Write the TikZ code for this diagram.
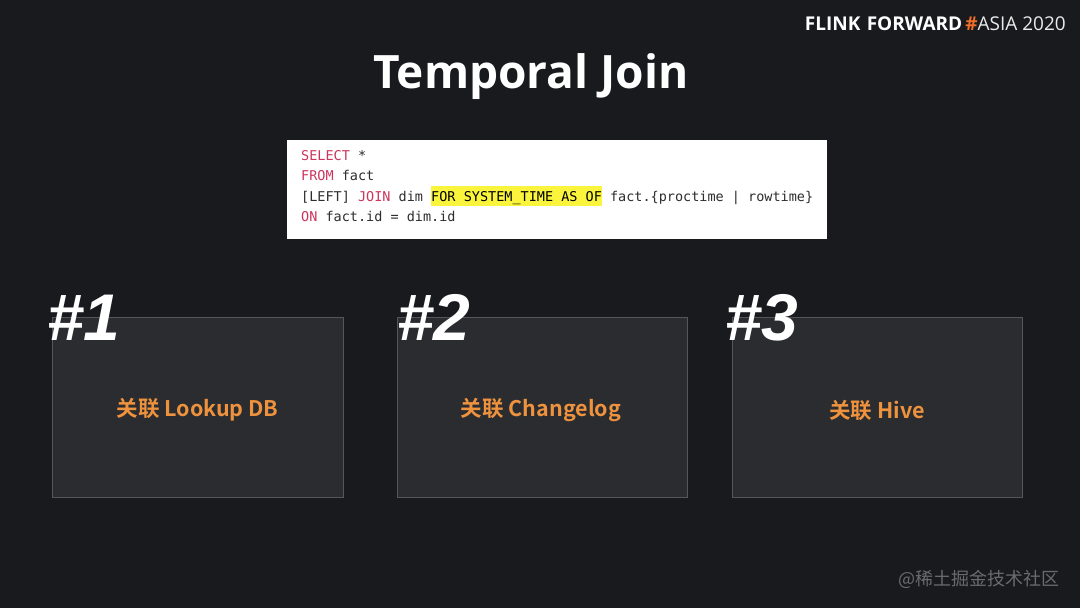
\documentclass[tikz,border=0pt]{standalone}
\usepackage{fontspec}
\setmainfont{Open Sans}
\newfontfamily\cjk[BoldFont={Noto Sans CJK SC Bold}]{Noto Sans CJK SC}
\newfontfamily\codefont{DejaVu Sans Mono}
\newfontfamily\hashfont{Liberation Sans}
\newfontfamily\brand{Open Sans}
\definecolor{bg}{RGB}{24,26,30}
\definecolor{boxfill}{RGB}{42,44,48}
\definecolor{boxline}{RGB}{84,86,90}
\definecolor{kw}{RGB}{204,52,92}
\definecolor{codetxt}{RGB}{45,45,45}
\definecolor{hl}{RGB}{250,245,60}
\definecolor{lbl}{RGB}{238,146,62}
\definecolor{brandorange}{RGB}{240,110,40}
\definecolor{wm}{RGB}{105,107,112}
\begin{document}
\begin{tikzpicture}[x=1pt,y=-1pt,
  panel/.style={draw=boxline,fill=boxfill,line width=1pt},
  numtxt/.style={text=white,font=\hashfont\bfseries\itshape\fontsize{66}{66}\selectfont,inner sep=0pt,anchor=base west},
  lbltxt/.style={text=lbl,font=\cjk\bfseries\fontsize{21.5}{24}\selectfont,inner sep=0pt},
  codeline/.style={text=codetxt,font=\codefont\fontsize{13.5}{16}\selectfont,inner sep=0pt,anchor=base west}]
\fill[bg] (0,0) rectangle (1080,608);
\useasboundingbox (0,0) rectangle (1080,608);
% header
\node[inner sep=0pt,anchor=base east,text=white,font=\brand\fontsize{19}{20}\selectfont] (brand) at (1066,30)
  {\textbf{FLINK\,\,FORWARD}\,{\color{brandorange}\textbf{\#}}{\color{white!92!black}ASIA 2020}};
% title
\node[inner sep=0pt,anchor=base,text=white,font=\bfseries\fontsize{46}{50}\selectfont] (title) at (531,88) {Temporal Join};
% code box
\node[fill=white,minimum width=540pt,minimum height=99pt,inner sep=0pt,anchor=north west] (code) at (287,140) {};
\fill[hl] (430.5,186) rectangle (601.5,206);
\node[codeline] (l1) at (301,160) {{\color{kw}SELECT} *};
\node[codeline] (l2) at (301,180.5) {{\color{kw}FROM} fact};
\node[codeline] (l3) at (301,201) {[LEFT] {\color{kw}JOIN} dim {\color{black}FOR SYSTEM\_TIME AS OF} fact.\{proctime | rowtime\}};
\node[codeline] (l4) at (301,221.5) {{\color{kw}ON} fact.id = dim.id};
% panels
\draw[panel] (52,317) rectangle (343,497);
\draw[panel] (397,317) rectangle (687,497);
\draw[panel] (732,317) rectangle (1022,497);
\node[lbltxt] (t1) at (197.5,410) {关联 Lookup DB};
\node[lbltxt] (t2) at (541,410) {关联 Changelog};
\node[lbltxt] (t3) at (877,410) {关联 Hive};
\node[numtxt] (n1) at (47,340) {\#1};
\node[numtxt] (n2) at (397,340) {\#2};
\node[numtxt] (n3) at (725,340) {\#3};
% watermark
\node[inner sep=0pt,anchor=base east,text=wm,font=\cjk\fontsize{18}{20}\selectfont] (wmk) at (1060,585) {@稀土掘金技术社区};
\end{tikzpicture}
\end{document}
